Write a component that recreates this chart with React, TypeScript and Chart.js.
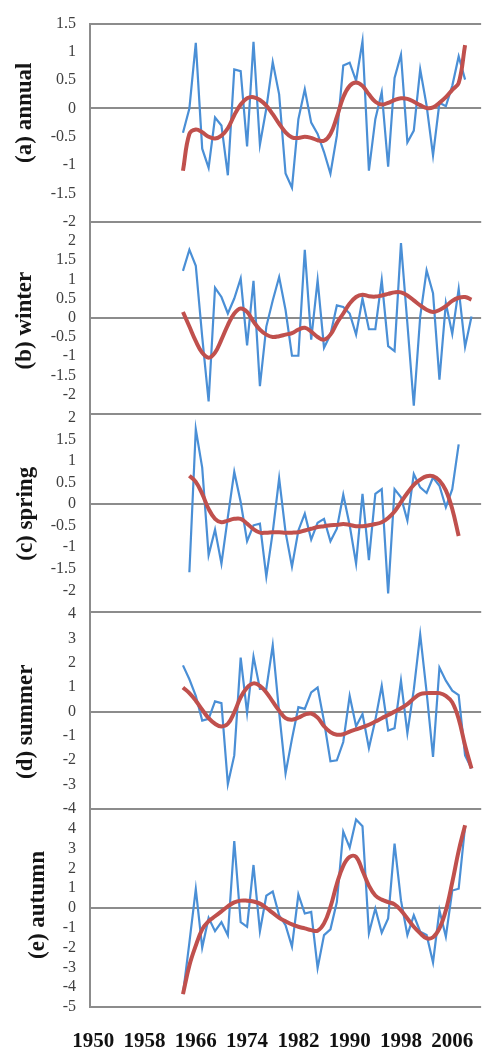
import React, { useEffect, useRef } from 'react';
import { Chart, registerables } from 'chart.js';

Chart.register(...registerables);

// ---------- data ----------
const FIRST_YEAR = 1950;
const LAST_YEAR = 2010;
const YEARS = Array.from({ length: LAST_YEAR - FIRST_YEAR + 1 }, (_, i) => String(FIRST_YEAR + i));
const X_TICK_LABELS = ['1950', '1958', '1966', '1974', '1982', '1990', '1998', '2006'];

const ANNUAL_START = 1964;
const ANNUAL = [-0.43, 0, 1.16, -0.71, -1.05, -0.16, -0.3, -1.18, 0.69, 0.66, -0.67, 1.18, -0.64, 0, 0.82, 0.25, -1.15, -1.4, -0.19, 0.34, -0.25, -0.45, -0.77, -1.15, -0.48, 0.76, 0.81, 0.49, 1.19, -1.1, -0.19, 0.29, -1.03, 0.54, 0.95, -0.6, -0.39, 0.69, 0.05, -0.83, 0.1, 0.04, 0.4, 0.92, 0.51];
const ANNUAL_SMOOTH = [-1.1, -0.45, -0.37, -0.42, -0.5, -0.53, -0.48, -0.35, -0.12, 0.07, 0.18, 0.2, 0.15, 0.05, -0.1, -0.27, -0.42, -0.51, -0.52, -0.5, -0.52, -0.56, -0.57, -0.45, -0.15, 0.2, 0.4, 0.46, 0.4, 0.25, 0.12, 0.07, 0.1, 0.15, 0.18, 0.17, 0.12, 0.06, 0.01, 0.02, 0.1, 0.2, 0.33, 0.45, 1.12];
const ANNUAL_TICKS = [-2, -1.5, -1, -0.5, 0, 0.5, 1, 1.5];

const WINTER_START = 1964;
const WINTER = [1.22, 1.77, 1.35, -0.5, -2.18, 0.78, 0.54, 0.11, 0.5, 1.02, -0.72, 0.96, -1.78, -0.23, 0.45, 1.06, 0.2, -0.99, -0.99, 1.77, -0.57, 0.98, -0.78, -0.44, 0.32, 0.28, 0.11, -0.44, 0.5, -0.3, -0.3, 0.98, -0.74, -0.87, 1.94, -0.15, -2.29, 0.03, 1.23, 0.64, -1.61, 0.38, -0.42, 0.75, -0.76, 0.03];
const WINTER_SMOOTH = [0.15, -0.23, -0.61, -0.91, -1.04, -0.91, -0.57, -0.19, 0.11, 0.24, 0.15, -0.1, -0.31, -0.44, -0.5, -0.48, -0.44, -0.4, -0.31, -0.26, -0.36, -0.5, -0.57, -0.44, -0.14, 0.11, 0.37, 0.54, 0.6, 0.56, 0.55, 0.58, 0.62, 0.66, 0.66, 0.58, 0.45, 0.32, 0.21, 0.15, 0.2, 0.3, 0.44, 0.52, 0.54, 0.47];
const WINTER_TICKS = [-2, -1.5, -1, -0.5, 0, 0.5, 1, 1.5, 2];

const SPRING_START = 1965;
const SPRING = [-1.58, 1.74, 0.85, -1.18, -0.59, -1.38, -0.3, 0.75, 0.05, -0.86, -0.49, -0.45, -1.68, -0.65, 0.6, -0.65, -1.45, -0.61, -0.22, -0.82, -0.43, -0.34, -0.86, -0.57, 0.22, -0.49, -1.38, 0.24, -1.3, 0.24, 0.35, -2.07, 0.35, 0.16, -0.38, 0.7, 0.39, 0.26, 0.62, 0.43, -0.07, 0.35, 1.39];
const SPRING_SMOOTH = [0.66, 0.52, 0.24, -0.11, -0.34, -0.42, -0.38, -0.34, -0.34, -0.45, -0.58, -0.66, -0.66, -0.65, -0.65, -0.66, -0.66, -0.65, -0.61, -0.57, -0.53, -0.51, -0.49, -0.48, -0.46, -0.48, -0.51, -0.51, -0.49, -0.46, -0.42, -0.32, -0.17, 0.05, 0.26, 0.45, 0.57, 0.65, 0.65, 0.55, 0.32, -0.11, -0.74];
const SPRING_TICKS = [-2, -1.5, -1, -0.5, 0, 0.5, 1, 1.5, 2];

const SUMMER_START = 1964;
const SUMMER = [1.9, 1.33, 0.65, -0.37, -0.3, 0.42, 0.35, -2.98, -1.8, 2.22, -0.05, 2.26, 0.93, 0.93, 2.72, -0.03, -2.54, -1.12, 0.18, 0.11, 0.79, 0.99, -0.4, -2.04, -2.0, -1.25, 0.65, -0.6, -0.1, -1.5, -0.35, 1.06, -0.78, -0.68, 1.27, -0.88, 0.9, 3.17, 0.8, -1.86, 1.81, 1.27, 0.86, 0.68, -1.8, -2.34];
const SUMMER_SMOOTH = [0.99, 0.76, 0.45, 0.08, -0.27, -0.5, -0.61, -0.5, -0.03, 0.59, 0.99, 1.16, 1.06, 0.79, 0.41, 0.04, -0.27, -0.33, -0.25, -0.12, -0.08, -0.25, -0.6, -0.84, -0.95, -0.93, -0.82, -0.73, -0.64, -0.54, -0.41, -0.27, -0.14, 0, 0.14, 0.31, 0.54, 0.72, 0.76, 0.76, 0.76, 0.65, 0.38, -0.3, -1.39, -2.34];
const SUMMER_TICKS = [-4, -3, -2, -1, 0, 1, 2, 3, 4];

const AUTUMN_START = 1964;
const AUTUMN = [-4.35, -1.75, 0.95, -2.0, -0.5, -1.17, -0.72, -1.38, 3.38, -0.72, -0.95, 2.17, -1.17, 0.62, 0.83, -0.37, -0.87, -1.95, 0.68, -0.28, -0.2, -3.03, -1.37, -1.08, 0.3, 3.85, 3.05, 4.47, 4.13, -1.28, -0.03, -1.25, -0.53, 3.25, 0.38, -1.37, -0.37, -1.2, -1.37, -2.75, -0.12, -1.45, 0.88, 0.97, 4.13];
const AUTUMN_SMOOTH = [-4.35, -2.9, -1.9, -1.08, -0.67, -0.42, -0.17, 0.08, 0.28, 0.37, 0.37, 0.33, 0.22, 0, -0.25, -0.5, -0.67, -0.83, -0.95, -1.03, -1.12, -1.15, -0.78, 0.05, 1.22, 2.13, 2.58, 2.58, 1.88, 1.13, 0.63, 0.42, 0.3, 0.18, -0.12, -0.53, -0.95, -1.28, -1.53, -1.48, -1.03, -0.12, 1.3, 2.88, 4.18];
const AUTUMN_TICKS = [-5, -4, -3, -2, -1, 0, 1, 2, 3, 4];

// ---------- panel setup (axis ranges / layout) ----------
// titleX: centre of the rotated panel title from the canvas left; titlePos: fraction down the panel
const PANELS = [
  { id: 'ya', title: '(a) annual', start: ANNUAL_START, raw: ANNUAL, smooth: ANNUAL_SMOOTH, ticks: ANNUAL_TICKS, min: -2, max: 1.5, weight: 200, titleX: 25, titlePos: 0.45 },
  { id: 'yb', title: '(b) winter', start: WINTER_START, raw: WINTER, smooth: WINTER_SMOOTH, ticks: WINTER_TICKS, min: -2.5, max: 2.5, weight: 194, titleX: 25, titlePos: 0.515 },
  { id: 'yc', title: '(c) spring', start: SPRING_START, raw: SPRING, smooth: SPRING_SMOOTH, ticks: SPRING_TICKS, min: -2.5, max: 2.1, weight: 200, titleX: 26, titlePos: 0.505 },
  { id: 'yd', title: '(d) summer', start: SUMMER_START, raw: SUMMER, smooth: SUMMER_SMOOTH, ticks: SUMMER_TICKS, min: -4, max: 4.1, weight: 199, titleX: 26, titlePos: 0.558 },
  { id: 'ye', title: '(e) autumn', start: AUTUMN_START, raw: AUTUMN, smooth: AUTUMN_SMOOTH, ticks: AUTUMN_TICKS, min: -5, max: 5, weight: 200, titleX: 38, titlePos: 0.485 },
];

const BLUE = '#4a8fd6';
const RED = '#c0504d';
const FRAME = '#8c8c8c';
const SERIF = "'Liberation Serif', 'Times New Roman', serif";

function align(start: number, values: number[]) {
  return YEARS.map((y) => {
    const i = Number(y) - start;
    return i >= 0 && i < values.length ? values[i] : null;
  });
}

const panelTitles = {
  id: 'panelTitles',
  afterDraw(chart: any) {
    const ctx = chart.ctx;
    ctx.save();
    ctx.fillStyle = '#151515';
    ctx.font = `bold 23px ${SERIF}`;
    ctx.textAlign = 'center';
    ctx.textBaseline = 'middle';
    PANELS.forEach((p) => {
      const s = chart.scales[p.id];
      if (!s) return;
      ctx.save();
      ctx.translate(p.titleX, s.top + s.height * p.titlePos);
      ctx.rotate(-Math.PI / 2);
      ctx.fillText(p.title, 0, 0);
      ctx.restore();
    });
    ctx.restore();
  },
};

export default function App() {
  const ref = useRef<HTMLCanvasElement | null>(null);

  useEffect(() => {
    if (!ref.current) return;
    const datasets: any[] = [];
    PANELS.forEach((p) => {
      datasets.push({
        label: p.title + ' smooth',
        data: align(p.start, p.smooth),
        yAxisID: p.id,
        borderColor: RED,
        borderWidth: 4,
        pointRadius: 0,
        tension: 0.4,
        fill: false,
        order: 0,
      });
      datasets.push({
        label: p.title,
        data: align(p.start, p.raw),
        yAxisID: p.id,
        borderColor: BLUE,
        borderWidth: 2.2,
        pointRadius: 0,
        tension: 0,
        fill: false,
        order: 1,
      });
    });

    const scales: any = {
      x: {
        type: 'category',
        offset: true,
        grid: { display: false, drawTicks: false },
        border: { display: false },
        ticks: {
          autoSkip: false,
          maxRotation: 0,
          minRotation: 0,
          padding: 22,
          color: '#111',
          font: { family: SERIF, size: 21, weight: 'bold' },
          callback: (_v: any, i: number) => (X_TICK_LABELS.includes(YEARS[i]) ? YEARS[i] : ''),
        },
        afterFit: (s: any) => {
          s.height = 40;
        },
      },
    };

    // stacked left axes are laid out bottom-up in definition order, so add them reversed
    [...PANELS].reverse().forEach((p) => {
      const all = Array.from(new Set([p.min, ...p.ticks, p.max])).sort((a, b) => a - b);
      scales[p.id] = {
        type: 'linear',
        axis: 'y',
        position: 'left',
        stack: 'panels',
        stackWeight: p.weight,
        min: p.min,
        max: p.max,
        afterBuildTicks: (s: any) => {
          s.ticks = all.map((v) => ({ value: v }));
        },
        afterFit: (s: any) => {
          s.width = 90;
        },
        grid: {
          drawTicks: false,
          lineWidth: 2,
          color: (c: any) => {
            const v = c.tick ? c.tick.value : NaN;
            return v === 0 || v === p.min || v === p.max ? FRAME : 'rgba(0,0,0,0)';
          },
        },
        border: { display: true, color: FRAME, width: 2 },
        ticks: {
          autoSkip: false,
          padding: 14,
          color: '#404040',
          font: { family: SERIF, size: 16 },
          callback: (v: any) => (p.ticks.includes(Number(v)) ? String(v) : ''),
        },
        title: { display: false },
      };
    });

    const chart = new Chart(ref.current, {
      type: 'line',
      data: { labels: YEARS, datasets },
      options: {
        responsive: false,
        animation: false,
        devicePixelRatio: 1,
        layout: { padding: { top: 14, right: 11, left: 0, bottom: 0 } },
        plugins: { legend: { display: false }, tooltip: { enabled: false } },
        scales,
      } as any,
      plugins: [panelTitles],
    });
    return () => chart.destroy();
  }, []);

  return (
    <div
      style={{
        position: 'absolute',
        left: 0,
        top: 0,
        width: 486,
        height: 1047,
        overflow: 'hidden',
        background: '#fff',
      }}
    >
      <canvas ref={ref} width={500} height={1047} style={{ display: 'block', width: 500, height: 1047 }} />
    </div>
  );
}
